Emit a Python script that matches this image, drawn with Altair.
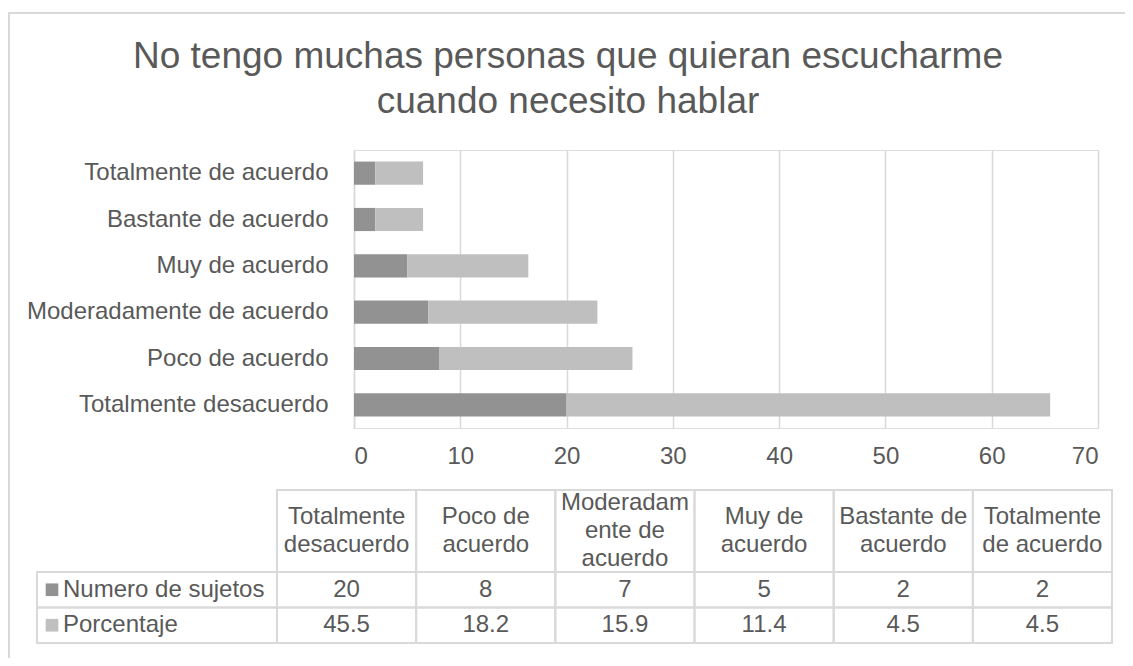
import altair as alt
import pandas as pd

# ---- data ----
categories = ["Totalmente de acuerdo", "Bastante de acuerdo", "Muy de acuerdo",
              "Moderadamente de acuerdo", "Poco de acuerdo", "Totalmente desacuerdo"]
numero = [2, 2, 5, 7, 8, 20]
porcentaje = [4.5, 4.5, 11.4, 15.9, 18.2, 45.5]

table_order = ["Totalmente desacuerdo", "Poco de acuerdo", "Moderadamente de acuerdo",
               "Muy de acuerdo", "Bastante de acuerdo", "Totalmente de acuerdo"]
table_headers = ["Totalmente\ndesacuerdo", "Poco de\nacuerdo", "Moderadam\nente de\nacuerdo",
                 "Muy de\nacuerdo", "Bastante de\nacuerdo", "Totalmente\nde acuerdo"]
series = ["Numero de sujetos", "Porcentaje"]
series_colors = ["#929292", "#bfbfbf"]
x_ticks = [0, 10, 20, 30, 40, 50, 60, 70]
title_lines = ["No tengo muchas personas que quieran escucharme", "cuando necesito hablar"]

FONT = "Liberation Sans"
TXT = "#595959"
GRID = "#d9d9d9"

rows = []
for c, n, p in zip(categories, numero, porcentaje):
    rows.append({"cat": c, "serie": series[0], "val": n, "ord": 0})
    rows.append({"cat": c, "serie": series[1], "val": p, "ord": 1})
bars_df = pd.DataFrame(rows)

hdr_df = pd.DataFrame({"cat": table_order, "label": table_headers, "row": "header",
                       "nl": [h.count("\n") + 1 for h in table_headers]})

val_map_n = dict(zip(categories, numero))
val_map_p = dict(zip(categories, porcentaje))
cells = []
for c in table_order:
    cells.append({"cat": c, "row": series[0], "txt": f"{val_map_n[c]:g}"})
    cells.append({"cat": c, "row": series[1], "txt": f"{val_map_p[c]:.1f}"})
cells_df = pd.DataFrame(cells)
lbl_df = pd.DataFrame({"lbl": ["lbl", "lbl"], "row": series, "serie": series})

color = alt.Color("serie:N", scale=alt.Scale(domain=series, range=series_colors), legend=None)

# table scales (pixel ranges relative to plot origin)
tx = alt.Scale(domain=table_order, range=[-77, 758], paddingInner=0, paddingOuter=0)
ty_h = alt.Scale(domain=["header"], range=[340, 422], paddingInner=0, paddingOuter=0)
ty_r = alt.Scale(domain=series, range=[422, 493], paddingInner=0, paddingOuter=0)
lx = alt.Scale(domain=["lbl"], range=[-317, -77], paddingInner=0, paddingOuter=0)

frame = alt.Chart(pd.DataFrame({"a": [0]})).mark_rect(
    filled=False, stroke=GRID, strokeWidth=2
).encode(x=alt.value(-345), x2=alt.value(900), y=alt.value(-137), y2=alt.value(700))

bars = alt.Chart(bars_df).mark_bar().encode(
    y=alt.Y("cat:N", sort=categories,
            scale=alt.Scale(domain=categories, paddingInner=0.5, paddingOuter=0.25),
            axis=alt.Axis(title=None, domain=True, domainColor=GRID, domainWidth=1.5,
                          ticks=False, labelFontSize=24, labelFont=FONT, labelColor=TXT,
                          labelPadding=26, grid=False, labelLimit=400)),
    x=alt.X("sum(val):Q", stack="zero",
            scale=alt.Scale(domain=[0, 70], nice=False),
            axis=alt.Axis(title=None, values=x_ticks, grid=True, gridColor=GRID, gridWidth=1.5,
                          domain=False, ticks=False, labelFontSize=24, labelFont=FONT,
                          labelColor=TXT, labelPadding=16)),
    color=color,
    order=alt.Order("ord:Q"),
)

hx = alt.X("cat:N", scale=tx, axis=None, sort=table_order)
hy = alt.Y("row:N", scale=ty_h, axis=None)

hdr_rect = alt.Chart(hdr_df).mark_rect(filled=False, stroke=GRID, strokeWidth=2).encode(x=hx, y=hy)
hdr_text2 = alt.Chart(hdr_df).transform_filter("datum.nl == 2").mark_text(
    font=FONT, fontSize=24, color=TXT, lineBreak="\n", lineHeight=28, baseline="middle", dy=-14
).encode(x=hx, y=hy, text="label:N")
hdr_text3 = alt.Chart(hdr_df).transform_filter("datum.nl == 3").mark_text(
    font=FONT, fontSize=24, color=TXT, lineBreak="\n", lineHeight=28, baseline="middle", dy=-28
).encode(x=hx, y=hy, text="label:N")

ry = alt.Y("row:N", scale=ty_r, axis=None)
cell_rect = alt.Chart(cells_df).mark_rect(filled=False, stroke=GRID, strokeWidth=2).encode(x=hx, y=ry)
cell_text = alt.Chart(cells_df).mark_text(
    font=FONT, fontSize=24, color=TXT, baseline="middle"
).encode(x=hx, y=ry, text="txt:N")

lxe = alt.X("lbl:N", scale=lx, axis=None)
lbl_rect = alt.Chart(lbl_df).mark_rect(filled=False, stroke=GRID, strokeWidth=2).encode(x=lxe, y=ry)
lbl_sq = alt.Chart(lbl_df).mark_square(size=160, opacity=1, xOffset=-105).encode(
    x=lxe, y=ry, color=color,
)
lbl_text = alt.Chart(lbl_df).mark_text(
    font=FONT, fontSize=24, color=TXT, baseline="middle", align="left", dx=-94
).encode(x=lxe, y=ry, text="row:N")

chart = alt.layer(
    frame, bars, hdr_rect, hdr_text2, hdr_text3, cell_rect, cell_text, lbl_rect, lbl_sq, lbl_text
).resolve_scale(x="independent", y="independent").properties(
    width=744, height=278,
    autosize=alt.AutoSizeParams(type="none"),
    padding={"left": 346, "top": 142, "right": 27, "bottom": 230},
    title=alt.TitleParams(text=title_lines, fontSize=37, font=FONT, color=TXT,
                          fontWeight="normal", anchor="middle", frame="group",
                          dx=-158, dy=109, lineHeight=45, offset=0),
).configure_view(stroke=None, strokeWidth=0).configure(background="white")

chart.save("out.html", embed_options={"renderer": "svg", "actions": False})
